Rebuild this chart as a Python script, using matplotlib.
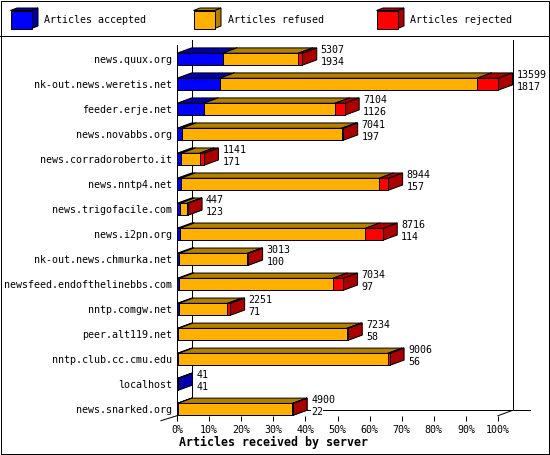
import matplotlib
matplotlib.use("Agg")
import matplotlib.pyplot as plt
from matplotlib.patches import Polygon, Rectangle

plt.rcParams['font.family'] = ['DejaVu Sans Mono']

servers = ["news.quux.org", "nk-out.news.weretis.net", "feeder.erje.net", "news.novabbs.org",
           "news.corradoroberto.it", "news.nntp4.net", "news.trigofacile.com", "news.i2pn.org",
           "nk-out.news.chmurka.net", "newsfeed.endofthelinebbs.com", "nntp.comgw.net",
           "peer.alt119.net", "nntp.club.cc.cmu.edu", "localhost", "news.snarked.org"]
# labels printed beside the bars
totals = [5307, 13599, 7104, 7041, 1141, 8944, 447, 8716, 3013, 7034, 2251, 7234, 9006, 41, 4900]
accepted = [1934, 1817, 1126, 197, 171, 157, 123, 114, 100, 97, 71, 58, 56, 41, 22]
refused = [3203, 10892, 5568, 6774, 784, 8406, 304, 7865, 2883, 6501, 2066, 7134, 8865, 0, 4865]
rejected = [170, 890, 410, 70, 186, 381, 20, 737, 30, 436, 114, 42, 85, 0, 13]
max_total = 13599

pct_ticks = [0, 10, 20, 30, 40, 50, 60, 70, 80, 90, 100]
legend_names = ["Articles accepted", "Articles refused", "Articles rejected"]
fronts = ["#0000FF", "#FFB000", "#FF0000"]
tops = ["#0000AA", "#B38000", "#AA0000"]
sides = ["#0000AA", "#B38000", "#AA0000"]

W, H = 550, 455
LW = 0.72
FS = 7.2
fig = plt.figure(figsize=(W / 100, H / 100), dpi=100, facecolor="white")

# background layer in pixels: frame and legend
bg = fig.add_axes([0, 0, 1, 1])
bg.set_xlim(0, W)
bg.set_ylim(H, 0)
bg.axis("off")
bg.add_patch(Rectangle((0.5, 0.5), W - 1.5, H - 1.5, fc="none", ec="black", lw=LW))
bg.plot([0, W], [35.5, 35.5], color="black", lw=LW)


def box(ax, x0, x1, y0, y1, dx, dy, i, zorder=3):
    # front face with slanted top and side, y grows downward
    pts_top = [(x0, y0), (x0 + dx, y0 - dy), (x1 + dx, y0 - dy), (x1, y0)]
    pts_side = [(x1, y0), (x1 + dx, y0 - dy), (x1 + dx, y1 - dy), (x1, y1)]
    pts_front = [(x0, y0), (x1, y0), (x1, y1), (x0, y1)]
    for pts, col in ((pts_side, sides[i]), (pts_top, tops[i]), (pts_front, fronts[i])):
        ax.add_patch(Polygon(pts, closed=True, fc=col, ec="black", lw=LW,
                             clip_on=False, zorder=zorder))


for x0, name, col in zip([10.5, 193.5, 376.5], legend_names, range(3)):
    box(bg, x0, x0 + 21, 10.5, 28.5, 6.5, 2.5, col)
    bg.text(x0 + 34, 20, name, fontsize=FS, va="center", ha="left")

# chart axes: x in percent of the biggest server, y in rows
y_bottom = 415.7
y_top = 40.45
ax = fig.add_axes([177 / W, 1 - y_bottom / H, 321 / W, (y_bottom - y_top) / H])
ax.patch.set_alpha(0)
ax.set_xlim(0, 100)
ax.set_ylim(14.25, -0.75)
for s in ("top", "right", "bottom"):
    ax.spines[s].set_visible(False)
ax.spines["left"].set_linewidth(LW)
ax.spines["left"].set_bounds(14.25, -0.57)

ax.set_xticks(pct_ticks)
ax.set_xticklabels([f"{p}%" for p in pct_ticks], fontsize=FS)
ax.set_yticks(range(len(servers)))
ax.set_yticklabels(servers, fontsize=FS)
ax.tick_params(axis="x", length=3.6, width=LW, pad=3)
ax.tick_params(axis="y", length=0, pad=3.6)
ax.set_xlabel("Articles received by server", fontsize=8.4, fontweight="bold",
              labelpad=1.0, x=0.3, ha="center")

# depth of the 3D effect in data units
dx = 14.5 / 3.21
dy = 5.3 / 25
half = 0.24

# back walls and floor
wall = dict(color="black", lw=LW, clip_on=False, zorder=1)
ax.plot([dx, dx], [14.25 - dy, -0.75], **wall)
ax.plot([100 + dx, 100 + dx], [14.25 - dy, -0.75], **wall)
ax.plot([dx, 100 + dx + 5.6], [14.25 - dy, 14.25 - dy], **wall)
ax.plot([100, 100 + dx], [14.25, 14.25 - dy], **wall)
ax.plot([-5, 0], [14.45, 14.25], **wall)

for row in range(len(servers)):
    start = 0.0
    for i, vals in enumerate((accepted, refused, rejected)):
        v = vals[row]
        if v == 0:
            continue
        end = start + v / max_total * 100
        box(ax, start, end, row - half, row + half, dx, dy, i, zorder=3 + row * 0.01 + i * 0.001)
        start = end
    lx = totals[row] / max_total * 100 + dx + 4 / 3.21
    ax.annotate(str(totals[row]), (lx, row), xytext=(0, 6.5), textcoords="offset points",
                fontsize=FS, va="center", ha="left", annotation_clip=False, zorder=5,
                bbox=dict(fc="white", ec="none", pad=0))
    ax.annotate(str(accepted[row]), (lx, row), xytext=(0, -1.7), textcoords="offset points",
                fontsize=FS, va="center", ha="left", annotation_clip=False, zorder=5,
                bbox=dict(fc="white", ec="none", pad=0))

fig.savefig("out.png", dpi=100)
